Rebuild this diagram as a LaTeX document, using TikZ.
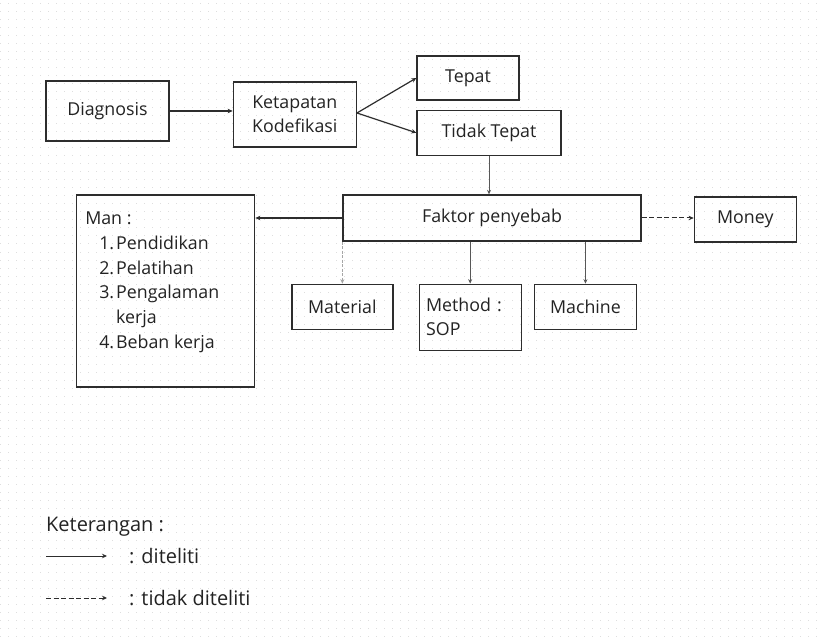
\documentclass[tikz,border=0pt]{standalone}
\usepackage{fontspec}
\setmainfont{Open Sans}
\usepackage{tikz}
\usetikzlibrary{arrows.meta,positioning,calc}
\definecolor{lnclr}{RGB}{45,45,45}
\definecolor{txtclr}{RGB}{35,35,35}
\definecolor{gridclr}{RGB}{222,222,222}
\tikzstyle{process} = [rectangle, minimum width=102pt, minimum height=45pt, text centered, draw=lnclr, line width=1.3pt, text=txtclr, inner sep=6pt]
\tikzstyle{arrow} = [line width=1.2pt, -{Stealth[length=5pt,width=4.5pt]}, color=lnclr]
\tikzstyle{dasharrow} = [arrow, line width=1pt, dash pattern=on 5pt off 2.5pt]
\tikzstyle{thinarrow} = [line width=0.9pt, -{Stealth[length=4.5pt,width=4pt]}, color=lnclr!80]

\begin{document}
\begin{tikzpicture}[x=1pt, y=1pt, font=\fontsize{17.8}{24}\selectfont, node distance=20pt]
\useasboundingbox (0,0) rectangle (821,-644);
% dotted background
\fill[white] (0,0) rectangle (821,-644);
\foreach \gy in {4,12,...,644}
  \draw[gridclr, line width=1pt, dash pattern=on 1pt off 7pt] (0,-\gy) -- (821,-\gy);

% Top row
\node[process, minimum width=123pt, minimum height=60pt] (diag) at (107.5,-111) {Diagnosis};
\node[process, minimum width=123pt, minimum height=65pt, align=center, right=63pt of diag, yshift=-3.5pt] (kodef) {Ketapatan\\Kodefikasi};
\node[process, minimum height=44pt] (tepat) at (468,-78) {Tepat};
\node[process, minimum width=144pt, below=9pt of tepat.south west, anchor=north west] (tidak) {Tidak Tepat};

\draw[arrow] (diag.east) -- (diag.east -| kodef.west);
\draw[arrow] ($(kodef.east)+(0,1.5)$) -- (tepat.west);
\draw[arrow] ($(kodef.east)+(0,1.5)$) -- (tidak.west);

% Faktor penyebab and its branches
\node[process, minimum width=298pt, minimum height=46pt] (faktor) at (492,-218) {Faktor penyebab};
\node[process, right=52pt of faktor, yshift=-1.5pt] (money) {Money};
\node[process, minimum width=101pt, below=42pt of faktor.south west] (material) {Material};
\node[process, minimum height=66pt, text width=88pt, align=left, right=25pt of material.north east, anchor=north west] (method) {Method :\\SOP};
\node[process, right=12pt of method.north east, anchor=north west] (machine) {Machine};
\node[process, minimum width=178pt, minimum height=192pt, left=87pt of faktor.north west, anchor=north east] (man) {};
\node[anchor=north west, inner sep=0pt, text=txtclr, font=\fontsize{17.8}{24.7}\selectfont] (manlist) at ($(man.north west)+(9,-13)$) {%
\begin{tabular}{@{}r@{\hspace{2pt}}l@{}}
\multicolumn{2}{@{}l}{Man :}\\
\hspace{14pt}1. & Pendidikan\\
2. & Pelatihan\\
3. & Pengalaman\\
 & kerja\\
4. & Beban kerja
\end{tabular}};

\draw[thinarrow] (tidak.south) -- (tidak.south |- faktor.north);
\draw[arrow] (faktor.west) -- (faktor.west -| man.east);
\draw[dasharrow] (faktor.east) -- (faktor.east -| money.west);
\draw[thinarrow, color=gray!70, dash pattern=on 3pt off 1.5pt] (faktor.south west) -- (material.north);
\draw[thinarrow] (method.north |- faktor.south) -- (method.north);
\draw[thinarrow] (machine.north |- faktor.south) -- (machine.north);

% Keterangan
\node[anchor=west, inner sep=0pt, text=txtclr, font=\fontsize{20}{24}\selectfont] (ket) at (46,-527) {Keterangan :};
\coordinate (solA) at (46,-556);
\coordinate (solB) at (107,-556);
\coordinate (dasA) at (46,-598);
\coordinate (dasB) at (107,-598);
\draw[arrow, line width=1pt] (solA) -- (solB);
\draw[dasharrow] (dasA) -- (dasB);
\node[anchor=west, inner sep=0pt, text=txtclr, font=\fontsize{20}{24}\selectfont] (diteliti) at (129,-556) {: diteliti};
\node[anchor=west, inner sep=0pt, text=txtclr, font=\fontsize{20}{24}\selectfont] (tdkditeliti) at (129,-598) {: tidak diteliti};
\end{tikzpicture}
\end{document}
